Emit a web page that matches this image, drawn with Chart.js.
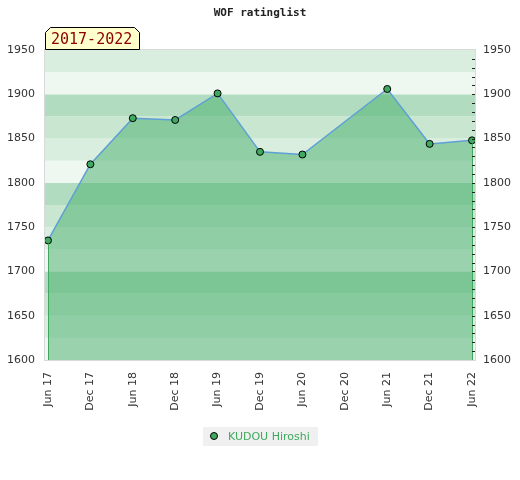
<!DOCTYPE html>
<html>
<head>
<meta charset="utf-8">
<script src="https://cdn.jsdelivr.net/npm/chart.js@4"></script>
<style>
  body { margin: 0; background: #fff; }
</style>
</head>
<body>
<canvas id="ratingChart" width="520" height="480"></canvas>
<script>
const xLabels = ["Jun 17", "Dec 17", "Jun 18", "Dec 18", "Jun 19", "Dec 19", "Jun 20", "Dec 20", "Jun 21", "Dec 21", "Jun 22"];
const ratings = [1735, 1821, 1873, 1871, 1901, 1835, 1832, null, 1906, 1844, 1848];
const yTicks = [1600, 1650, 1700, 1750, 1800, 1850, 1900, 1950];
const playerName = "KUDOU Hiroshi";
const periodText = "2017-2022";

// band shades, by position inside each hundred
const bandColors = { 0: "#eef7f0", 25: "#daeee0", 50: "#c8e6d0", 75: "#b2dcbf" };
const green = "#3fa95f";

Chart.defaults.font.family = "'DejaVu Sans', sans-serif";
Chart.defaults.font.size = 11;
Chart.defaults.color = "#333";

const decorations = {
  id: "decorations",
  beforeDatasetsDraw(chart) {
    const ctx = chart.ctx;
    const area = chart.chartArea;
    const y = chart.scales.y;
    ctx.save();
    for (let v = y.min; v < y.max; v += 25) {
      const top = y.getPixelForValue(v + 25);
      const bottom = y.getPixelForValue(v);
      ctx.fillStyle = bandColors[v % 100];
      ctx.fillRect(area.left, top, area.right - area.left, bottom - top);
    }
    ctx.strokeStyle = "#d9d9d9";
    ctx.lineWidth = 1;
    ctx.strokeRect(area.left - 0.5, area.top - 0.5, area.right - area.left + 1, area.bottom - area.top + 1);
    ctx.restore();
  },
  afterDatasetsDraw(chart) {
    const ctx = chart.ctx;
    const area = chart.chartArea;
    const x = chart.scales.x;
    const y = chart.scales.y;
    ctx.save();
    // green edges of the filled area
    const first = ratings.findIndex(v => v !== null);
    let last = ratings.length - 1;
    while (ratings[last] === null) last--;
    ctx.strokeStyle = green;
    ctx.lineWidth = 1;
    [first, last].forEach(i => {
      const px = Math.round(x.getPixelForValue(i)) + 0.5;
      ctx.beginPath();
      ctx.moveTo(px, y.getPixelForValue(ratings[i]) + 3);
      ctx.lineTo(px, area.bottom);
      ctx.stroke();
    });
    // minor ticks on the right edge
    ctx.strokeStyle = "#222";
    for (let v = y.min + 10; v < y.max; v += 10) {
      const py = Math.round(y.getPixelForValue(v)) + 0.5;
      ctx.beginPath();
      ctx.moveTo(area.right - 3, py);
      ctx.lineTo(area.right, py);
      ctx.stroke();
    }
    ctx.restore();
  },
  afterDraw(chart) {
    const ctx = chart.ctx;
    const area = chart.chartArea;
    ctx.save();
    // title
    ctx.font = "bold 11px 'DejaVu Sans Mono', monospace";
    ctx.fillStyle = "#222";
    ctx.textAlign = "center";
    ctx.textBaseline = "middle";
    ctx.fillText("WOF ratinglist", 260, 13);

    // period tag
    const l = area.left + 0.5, r = 139.5, t = 27.5, b = area.top - 0.5;
    ctx.beginPath();
    ctx.moveTo(l, b);
    ctx.lineTo(l, t + 5);
    ctx.lineTo(l + 5, t);
    ctx.lineTo(r - 5, t);
    ctx.lineTo(r, t + 5);
    ctx.lineTo(r, b);
    ctx.closePath();
    ctx.fillStyle = "#ffffcc";
    ctx.fill();
    ctx.strokeStyle = "#000";
    ctx.lineWidth = 1;
    ctx.stroke();
    ctx.font = "15px 'DejaVu Sans Mono', monospace";
    ctx.fillStyle = "#8b0000";
    ctx.textAlign = "left";
    ctx.fillText(periodText, 51, 40);

    // legend
    ctx.fillStyle = "#f0f0f0";
    ctx.fillRect(203, 427, 115, 19);
    ctx.beginPath();
    ctx.arc(214, 436, 3.5, 0, Math.PI * 2);
    ctx.fillStyle = green;
    ctx.fill();
    ctx.strokeStyle = "#000";
    ctx.stroke();
    ctx.font = "11px 'DejaVu Sans', sans-serif";
    ctx.fillStyle = green;
    ctx.fillText(playerName, 228, 437);
    ctx.restore();
  }
};

const ctx = document.getElementById("ratingChart").getContext("2d");
const chart = new Chart(ctx, {
  type: "line",
  data: {
    datasets: [
      {
        label: playerName,
        data: ratings.map((v, i) => ({ x: i, y: v })),
        borderColor: "#5ea0d6",
        borderWidth: 1.5,
        backgroundColor: "rgba(69,174,105,0.5)",
        fill: "start",
        spanGaps: true,
        tension: 0,
        pointRadius: 3.5,
        pointBackgroundColor: green,
        pointBorderColor: "#000",
        pointBorderWidth: 1,
        yAxisID: "y",
      },
    ],
  },
  options: {
    responsive: false,
    animation: false,
    events: [],
    layout: { padding: { top: 50, bottom: 60, left: 0, right: 0 } },
    plugins: {
      legend: { display: false },
      title: { display: false },
      tooltip: { enabled: false },
    },
    scales: {
      x: {
        type: "linear",
        min: -0.07,
        max: xLabels.length - 1 + 0.07,
        grid: { display: false },
        border: { display: false },
        afterBuildTicks: scale => {
          scale.ticks = xLabels.map((l, i) => ({ value: i }));
        },
        afterFit: scale => { scale.height = 60; },
        ticks: {
          autoSkip: false,
          minRotation: 90,
          maxRotation: 90,
          padding: 4,
          callback: value => xLabels[value],
        },
      },
      y: {
        position: "left",
        min: yTicks[0],
        max: yTicks[yTicks.length - 1],
        grid: { display: false },
        border: { display: false },
        afterBuildTicks: scale => { scale.ticks = yTicks.map(v => ({ value: v })); },
        afterFit: scale => { scale.width = 45; },
        ticks: { padding: 2, callback: value => String(value) },
      },
      y2: {
        position: "right",
        min: yTicks[0],
        max: yTicks[yTicks.length - 1],
        grid: { display: false },
        border: { display: false },
        afterBuildTicks: scale => { scale.ticks = yTicks.map(v => ({ value: v })); },
        afterFit: scale => { scale.width = 45; },
        ticks: { padding: 0, callback: value => String(value) },
      },
    },
  },
  plugins: [decorations],
});
</script>
</body>
</html>
